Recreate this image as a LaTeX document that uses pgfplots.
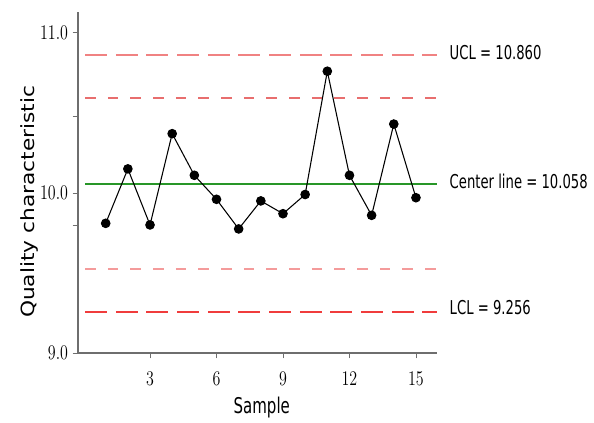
\documentclass[border=0pt]{standalone}
\usepackage{pgfplots}
\pgfplotsset{compat=1.18}
\usepackage{fontspec}
\setmainfont{DejaVu Sans}
\newfontfamily\condfont{DejaVu Sans Condensed}
\usepackage{graphicx}

\definecolor{uclpink}{RGB}{240,130,130}
\definecolor{sigpink}{RGB}{232,110,110}
\definecolor{lowpink}{RGB}{244,155,155}
\definecolor{lclred}{RGB}{240,60,60}
\definecolor{cgreen}{RGB}{40,150,40}
\definecolor{axgray}{RGB}{110,110,110}

\newcommand{\tall}[1]{\scalebox{1}[1.3]{#1}}

\begin{document}
\begin{tikzpicture}
\begin{axis}[
  name=ax,
  scale only axis,
  width=269.25pt, height=255.75pt,
  xmin=-0.25, xmax=15.95,
  ymin=9, ymax=11.13,
  axis x line*=bottom, axis y line*=left,
  axis line style={axgray, line width=1.5pt},
  xtick={3,6,9,12,15},
  ytick={9,10,11},
  minor ytick={9.8,10.48},
  xticklabel={\tall{$\pgfmathprintnumber{\tick}$}},
  yticklabel={\tall{$\pgfmathprintnumber[fixed,fixed zerofill,precision=1]{\tick}$}},
  xticklabel style={yshift=-7pt},
  tick align=outside,
  major tick length=4pt, minor tick length=4pt,
  tick style={axgray, line width=0.6pt},
  ticklabel style={font=\fontsize{12}{12}\selectfont},
  xlabel={\condfont\fontsize{12.5}{14}\selectfont\tall{Sample}},
  xlabel style={at={(axis description cs:0.512,-0.161)}, anchor=center},
  ylabel={\scalebox{1.25}[1.05]{\fontsize{13}{15}\selectfont Quality characteristic}},
  ylabel style={at={(axis description cs:-0.136,0.443)}, anchor=center},
  clip=false,
]
% control limits
\addplot[uclpink, line width=1.5pt, dash pattern=on 16.5pt off 6.5pt] coordinates {(0.07,10.860) (15.95,10.860)};
\addplot[sigpink, line width=1.5pt, dash pattern=on 8pt off 9pt] coordinates {(0.07,10.593) (15.95,10.593)};
\addplot[cgreen, line width=1.5pt] coordinates {(0.07,10.058) (15.95,10.058)};
\addplot[lowpink, line width=1.5pt, dash pattern=on 8pt off 9pt] coordinates {(0.07,9.523) (15.95,9.523)};
\addplot[lclred, line width=1.5pt, dash pattern=on 16.5pt off 6.5pt] coordinates {(0.07,9.256) (15.95,9.256)};

% sample values
\addplot[black, line width=0.8pt, mark=*, mark size=3.2pt] coordinates {
  (1,9.81) (2,10.15) (3,9.80) (4,10.37) (5,10.11)
  (6,9.96) (7,9.775) (8,9.95) (9,9.87) (10,9.99)
  (11,10.76) (12,10.11) (13,9.86) (14,10.43) (15,9.97)
};

\node[anchor=west, font=\condfont\fontsize{11}{13}\selectfont, xshift=6pt, yshift=2pt] at (axis cs:15.95,10.860) {\tall{UCL = 10.860}};
\node[anchor=west, font=\condfont\fontsize{11}{13}\selectfont, xshift=6pt, yshift=1.5pt] at (axis cs:15.95,10.058) {\tall{Center line = 10.058}};
\node[anchor=west, font=\condfont\fontsize{11}{13}\selectfont, xshift=6pt, yshift=3pt] at (axis cs:15.95,9.256) {\tall{LCL = 9.256}};
\end{axis}
\pgfresetboundingbox
\path[use as bounding box] ([shift={(-58.5pt,-52.5pt)}]ax.south west) rectangle ([shift={(117.75pt,9pt)}]ax.north east);
\end{tikzpicture}
\end{document}
